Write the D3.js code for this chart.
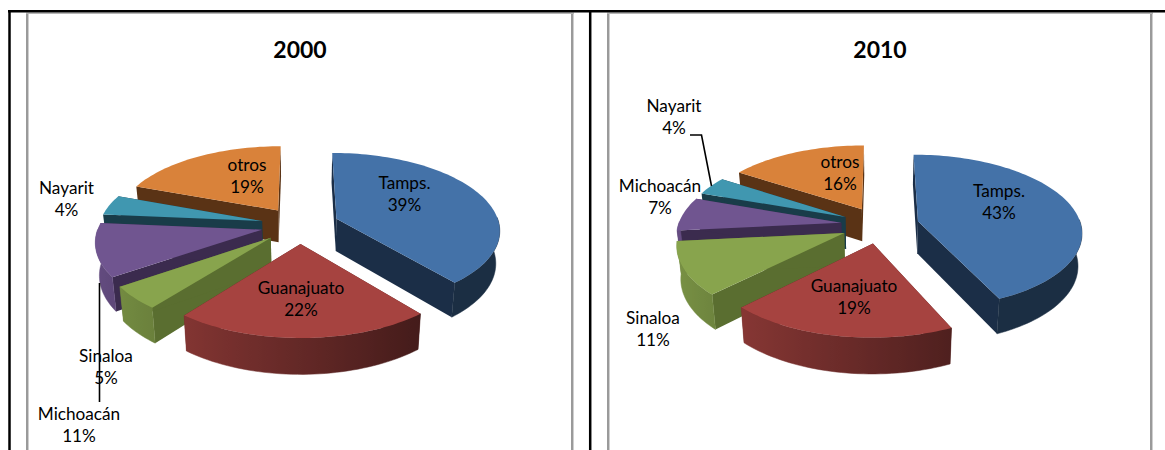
<!DOCTYPE html>
<html>
<head>
<meta charset="utf-8">
<script src="https://cdn.jsdelivr.net/npm/d3@7"></script>
<style>
html,body{margin:0;padding:0;background:#fff;overflow:hidden}
svg{display:block}
text{font-family:Lato,"Open Sans",sans-serif;fill:#000}
</style>
</head>
<body>
<div id="chart"></div>
<script>
// ---- data ----
const categories = ["Tamps.", "Guanajuato", "Sinaloa", "Michoacán", "Nayarit", "otros"];
const values2000 = [39, 21.6, 4.8, 11, 4.2, 19.4];
const values2010 = [43.2, 19.2, 11, 7, 3.8, 15.8];

// ---- styles ----
const topColors  = ["#4472a8", "#a64340", "#88a44d", "#705590", "#4097b0", "#d9823a"];
const wallColors = ["#1b2e47", "#5a2422", "#5a6e30", "#3b2b4e", "#193c49", "#5a3315"];
const rimBias    = [-0.1, 0, 0, 0, 0, 0];

// ---- layout ----
const labels2000 = [[404.5,183],[301,288],[106,356],[79,414],[66.5,188],[247,165]];
const labels2010 = [[999,191],[854,286],[653,318],[660,186],[674,106],[840,162]];
const leaders2000 = [[99.5,283],[99.5,402]];
const leaders2010 = [[690,135],[701.5,135],[711.5,186]];

const width = 1165, height = 450;
const radiusX = 163, radiusY = 76.2, depth = 33, perspective = 0.132, shrink = 0.02, explode = 0.24;

const svg = d3.select("#chart").append("svg").attr("width", width).attr("height", height);
const defs = svg.append("defs");

// ---- document frame ----
const frame = svg.append("g");
[[9.5,12,9.5,height,"#000",2.5],[590.2,12,590.2,height,"#000",2.5]].forEach(drawRule);
[[27,14,27,height,"#9a9a9a",2],[28.5,14,28.5,height,"#cfcfcf",1],
 [572,14,572,height,"#9a9a9a",2],[573.5,14,573.5,height,"#cfcfcf",1],
 [608,14,608,height,"#9a9a9a",2],[609.5,14,609.5,height,"#cfcfcf",1],
 [1151,14,1151,height,"#9a9a9a",2],[1152.5,14,1152.5,height,"#cfcfcf",1],
 [26,13.2,574,13.2,"#b5b5b5",1.5],[607,13.2,1153,13.2,"#b5b5b5",1.5],
 [8,11.2,width,11.2,"#000",2.5]].forEach(drawRule);
function drawRule(r){
  frame.append("line").attr("x1",r[0]).attr("y1",r[1]).attr("x2",r[2]).attr("y2",r[3])
    .attr("stroke",r[4]).attr("stroke-width",r[5]);
}

function drawChart(title, values, centerX, centerY, labelPos, leader){
  const xs = d3.scaleLinear().domain([0,1]).range([centerX, centerX + radiusX]);
  const ys = d3.scaleLinear().domain([0,1]).range([centerY, centerY + radiusY]);
  const project = (X, Y, z) => {
    const s = (1 / (1 - perspective * Y)) * (1 - shrink * z);
    return [xs(X * s), ys(Y * s) + depth * z * s];
  };
  const line = d3.line();
  const arcs = d3.pie().sort(null).value(d => d)(values).map((a, i) => {
    const mid = (a.startAngle + a.endAngle) / 2;
    return {...a, i, ox: explode * Math.sin(mid), oy: -explode * Math.cos(mid)};
  });
  const order = arcs.slice().sort((p, q) => p.oy - q.oy);
  const g = svg.append("g");

  order.forEach(a => {
    const n = Math.max(2, Math.ceil((a.endAngle - a.startAngle) / 0.03));
    const angles = d3.range(n + 1).map(k => a.startAngle + (a.endAngle - a.startAngle) * k / n);
    const rim = (t, z) => project(a.ox + Math.sin(t), a.oy - Math.cos(t), z);
    const apex = z => project(a.ox, a.oy, z);
    const sg = g.append("g");

    // cut walls
    [a.startAngle, a.endAngle].forEach(t => {
      sg.append("path")
        .attr("d", line([apex(0), rim(t,0), rim(t,1), apex(1)]) + "Z")
        .attr("fill", wallColors[a.i]);
    });

    // outer wall (front-facing part only): light on the left, dark on the right
    const base = d3.rgb(topColors[a.i]);
    const front = angles.filter(t => Math.cos(t) < 0.02);
    if (front.length > 1) {
      const samples = front
        .map(t => ({x: rim(t,0)[0], f: Math.max(0.4, Math.min(0.9, 0.6 - 0.3 * Math.sin(t) + rimBias[a.i]))}))
        .sort((p, q) => p.x - q.x);
      const x0 = samples[0].x, x1 = samples[samples.length - 1].x;
      const id = "rim" + title + "-" + a.i;
      defs.append("linearGradient").attr("id", id).attr("gradientUnits", "userSpaceOnUse")
        .attr("x1", x0).attr("x2", x1).attr("y1", 0).attr("y2", 0)
        .selectAll("stop").data(samples).join("stop")
        .attr("offset", d => (d.x - x0) / Math.max(1, x1 - x0))
        .attr("stop-color", d => d3.rgb(base.r * d.f, base.g * d.f, base.b * d.f).formatHex());
      sg.append("path")
        .attr("d", line([...front.map(t => rim(t,0)), ...front.slice().reverse().map(t => rim(t,1))]) + "Z")
        .attr("fill", `url(#${id})`).attr("stroke", `url(#${id})`).attr("stroke-width", 0.5);
    }

    // top face
    sg.append("path")
      .attr("d", line([apex(0), ...angles.map(t => rim(t,0))]) + "Z")
      .attr("fill", topColors[a.i]);
  });

  // title
  svg.append("text").attr("x", centerX).attr("y", 58)
    .attr("text-anchor", "middle").attr("font-size", 23).attr("font-weight", 700).text(title);

  // labels
  arcs.forEach(a => {
    const [x, y] = labelPos[a.i];
    const t = svg.append("text").attr("text-anchor", "middle").attr("font-size", 17.2);
    t.append("tspan").attr("x", x).attr("y", y + 5.5).text(categories[a.i]);
    t.append("tspan").attr("x", x).attr("y", y + 27.5).text(Math.round(a.value) + "%");
  });

  // leader line
  svg.append("path").attr("d", d3.line()(leader)).attr("fill", "none")
    .attr("stroke", "#000").attr("stroke-width", 1.6);
}

drawChart("2000", values2000, 300, 225, labels2000, leaders2000);
drawChart("2010", values2010, 880, 225, labels2010, leaders2010);
</script>
</body>
</html>
